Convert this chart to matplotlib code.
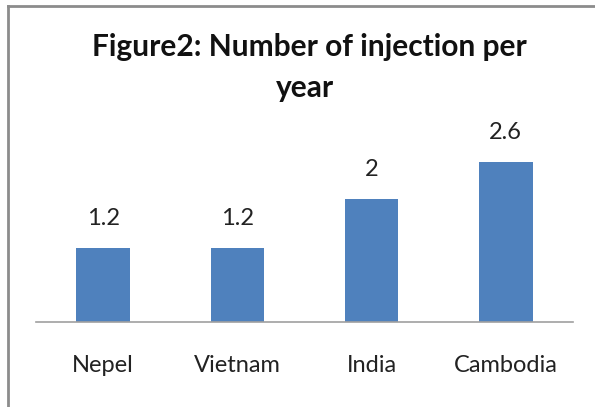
import matplotlib.pyplot as plt
from matplotlib.lines import Line2D

countries = ['Nepel', 'Vietnam', 'India', 'Cambodia']
injections = [1.2, 1.2, 2, 2.6]
value_labels = ['1.2', '1.2', '2', '2.6']

plt.rcParams['font.family'] = ['Lato', 'DejaVu Sans']

W, H = 595, 407
fig = plt.figure(figsize=(W / 100, H / 100), dpi=100)

# axes placed in pixel terms: x 36..573, baseline at y=322
left, right, bottom = 36, 573, 322
ymax = 3.0
top = bottom - ymax * 61.6
ax = fig.add_axes([left / W, 1 - bottom / H, (right - left) / W, (bottom - top) / H])

x = range(len(countries))
ax.bar(x, injections, width=0.4, color='#4F81BD', zorder=2)
ax.set_xlim(-0.5, len(countries) - 0.5)
ax.set_ylim(0, ymax)

for i, v in enumerate(injections):
    ax.text(i, v + 0.48, value_labels[i], ha='center', va='center', fontsize=17, color='#222222')

ax.set_xticks(list(x))
ax.set_xticklabels(countries, fontsize=17, color='#222222')
ax.tick_params(axis='x', length=0, pad=24)
ax.set_yticks([])
for s in ['left', 'right', 'top']:
    ax.spines[s].set_visible(False)
ax.spines['bottom'].set_color('#A0A0A0')
ax.spines['bottom'].set_linewidth(1.2)

fig.text(309 / W, 1 - 47 / H, 'Figure2: Number of injection per', ha='center', va='center',
         fontsize=21.5, fontweight='bold', color='#111111')
fig.text(305 / W, 1 - 88 / H, 'year', ha='center', va='center',
         fontsize=21.5, fontweight='bold', color='#111111')

# chart border (left and top edges visible)
fig.add_artist(Line2D([7.5 / W, 7.5 / W], [0, 1 - 5.5 / H], color='#8C8C8C', lw=2, transform=fig.transFigure))
fig.add_artist(Line2D([7.5 / W, 1], [1 - 5.5 / H, 1 - 5.5 / H], color='#8C8C8C', lw=2, transform=fig.transFigure))

fig.savefig('out.png', dpi=100)
